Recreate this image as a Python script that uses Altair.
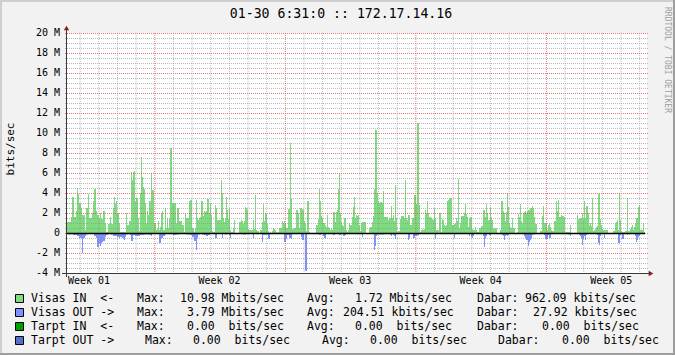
import altair as alt
import pandas as pd

# ---------------- data ----------------
title_text = "01-30 6:31:0 :: 172.17.14.16"
y_title = "bits/sec"
watermark = "RRDTOOL / TOBI OETIKER"

N_SLOTS = 580  # consolidated samples across the graph

# traffic IN (Mbit/s): each value holds from its start slot until the next start slot
in_start = [0, 4, 5, 7, 9, 10, 11, 12, 14, 15, 18, 19, 21, 22, 25, 26, 27, 29, 30, 32, 33, 34, 36, 38, 39, 41, 43, 44, 46, 47, 48, 49, 50, 52, 53, 59, 60, 62, 64, 65, 66, 67, 68, 69, 71, 72, 73, 74, 75, 76, 77, 78, 79, 80, 81, 82, 84, 85, 87, 89, 90, 91, 92, 93, 94, 95, 96, 98, 99, 100, 101, 102, 103, 105, 109, 110, 112, 115, 117, 118, 119, 122, 123, 125, 127, 128, 129, 130, 131, 132, 133, 134, 136, 137, 138, 139, 140, 142, 143, 144, 145, 146, 148, 149, 150, 154, 155, 156, 157, 158, 159, 160, 161, 162, 163, 164, 166, 167, 168, 172, 174, 175, 176, 177, 178, 179, 180, 181, 182, 186, 187, 188, 189, 190, 192, 193, 195, 196, 197, 198, 199, 200, 201, 202, 203, 204, 205, 206, 207, 208, 209, 210, 211, 212, 215, 216, 217, 218, 219, 221, 223, 224, 225, 227, 229, 231, 232, 233, 235, 236, 237, 238, 239, 240, 242, 243, 249, 251, 252, 253, 254, 255, 256, 258, 259, 260, 261, 262, 263, 264, 265, 266, 268, 269, 270, 271, 272, 273, 274, 275, 276, 277, 279, 280, 281, 282, 283, 285, 286, 287, 288, 289, 290, 291, 292, 293, 294, 295, 299, 302, 303, 305, 306, 307, 308, 310, 311, 312, 313, 315, 316, 317, 321, 322, 324, 325, 326, 327, 328, 329, 330, 331, 333, 334, 337, 338, 339, 340, 341, 343, 345, 347, 349, 350, 352, 353, 354, 355, 356, 357, 358, 359, 360, 361, 362, 364, 365, 366, 367, 368, 369, 372, 374, 375, 376, 377, 378, 379, 380, 381, 382, 383, 385, 387, 388, 389, 390, 391, 392, 393, 394, 397, 398, 399, 400, 401, 402, 403, 405, 406, 408, 409, 410, 412, 414, 416, 418, 419, 420, 421, 423, 424, 425, 426, 427, 428, 429, 430, 433, 434, 436, 437, 438, 439, 440, 441, 442, 443, 444, 445, 446, 448, 450, 451, 452, 453, 454, 455, 456, 457, 458, 459, 460, 461, 463, 465, 466, 467, 468, 470, 473, 475, 476, 477, 480, 481, 482, 483, 484, 485, 487, 489, 490, 491, 492, 494, 495, 497, 498, 503, 504, 510, 511, 513, 515, 516, 517, 518, 519, 521, 522, 523, 524, 525, 526, 527, 528, 529, 530, 531, 533, 534, 535, 536, 541, 546, 548, 549, 550, 551, 552, 553, 554, 555, 558, 560, 561, 563, 564, 565, 566, 567, 568, 569, 571, 572, 573, 576, 577, 578]
in_mbps = [1.1, 1.6, 3.6, 1.6, 2.2, 4.5, 3.9, 3.0, 2.5, 1.8, 0.3, 2.5, 3.9, 1.5, 2.0, 3.2, 4.4, 2.2, 1.8, 1.4, 2.0, 1.4, 2.2, 1.0, 0.1, 0.9, 1.6, 0.9, 2.5, 3.6, 2.9, 3.2, 2.0, 1.0, 0.1, 2.0, 0.8, 1.2, 6.1, 5.3, 6.1, 6.2, 3.2, 3.5, 1.5, 0.2, 4.0, 7.6, 5.6, 4.6, 4.4, 3.0, 1.0, 2.2, 1.8, 3.2, 6.0, 4.3, 1.0, 0.3, 0.4, 1.2, 0.3, 0.6, 2.0, 2.2, 0.3, 2.5, 0.5, 1.5, 0.5, 1.5, 8.5, 3.0, 1.0, 2.5, 1.2, 0.8, 0.1, 2.0, 1.5, 3.2, 3.3, 0.5, 0.1, 0.5, 3.3, 1.5, 1.3, 1.5, 1.6, 3.2, 1.7, 2.2, 2.1, 2.2, 3.4, 2.0, 3.0, 1.8, 0.2, 0.1, 2.8, 2.5, 1.3, 5.3, 4.0, 1.5, 1.1, 1.5, 3.6, 2.3, 1.4, 2.4, 0.3, 0.1, 0.5, 1.3, 0.0, 1.1, 1.3, 1.2, 0.9, 1.2, 2.6, 2.5, 2.3, 0.4, 0.3, 1.3, 0.4, 3.8, 0.3, 0.2, 0.0, 0.3, 1.1, 2.9, 1.2, 2.0, 1.9, 0.9, 0.2, 0.0, 0.1, 0.0, 0.2, 0.5, 0.4, 0.3, 0.1, 0.0, 0.1, 0.5, 1.2, 1.0, 1.2, 1.0, 0.5, 2.4, 9.0, 3.4, 0.4, 0.5, 2.3, 2.0, 0.5, 2.5, 2.4, 2.3, 1.2, 0.9, 0.2, 3.2, 0.1, 0.0, 0.8, 1.4, 4.4, 3.2, 1.7, 1.5, 1.0, 0.8, 0.6, 1.8, 0.6, 0.5, 0.3, 0.5, 0.3, 2.1, 1.1, 2.1, 2.3, 4.4, 5.9, 2.0, 1.1, 0.8, 0.7, 1.5, 0.3, 0.1, 0.3, 1.0, 0.8, 1.6, 2.6, 3.6, 1.5, 1.8, 1.7, 1.8, 0.8, 0.2, 1.0, 1.1, 0.0, 0.5, 0.6, 1.1, 1.7, 4.4, 10.3, 4.0, 3.2, 3.0, 3.1, 3.0, 4.2, 1.6, 1.3, 1.5, 2.7, 1.5, 1.8, 1.2, 4.8, 1.5, 0.1, 0.2, 1.4, 1.7, 1.5, 5.3, 1.5, 1.3, 1.8, 0.8, 1.5, 3.8, 2.9, 11.0, 2.8, 0.1, 0.3, 0.4, 0.3, 0.4, 2.3, 2.0, 3.2, 2.0, 1.6, 1.5, 1.4, 1.3, 2.5, 1.4, 0.3, 2.0, 0.1, 1.4, 1.3, 0.8, 0.7, 0.8, 3.2, 3.3, 3.4, 3.5, 0.8, 0.9, 1.0, 1.5, 1.2, 5.4, 0.5, 1.0, 1.7, 2.0, 2.9, 1.9, 1.6, 0.6, 1.4, 1.6, 0.4, 0.3, 0.6, 0.3, 0.1, 0.5, 0.7, 2.3, 1.6, 2.9, 2.0, 1.3, 2.6, 1.6, 1.3, 0.4, 0.5, 0.4, 0.5, 0.0, 0.3, 3.2, 2.2, 2.0, 1.2, 2.1, 4.0, 2.6, 1.0, 0.6, 0.5, 1.5, 0.5, 0.0, 0.1, 1.9, 1.6, 2.9, 1.2, 1.0, 2.0, 2.1, 2.2, 2.0, 2.2, 2.3, 2.5, 2.7, 2.5, 1.6, 0.9, 0.0, 0.2, 1.7, 2.7, 1.0, 0.3, 0.8, 1.0, 0.6, 0.3, 0.2, 1.2, 3.2, 2.2, 3.3, 1.6, 1.8, 1.7, 1.6, 0.1, 0.8, 0.0, 1.8, 1.4, 1.5, 2.0, 1.4, 3.2, 1.5, 2.7, 2.0, 0.8, 1.0, 0.7, 3.5, 0.2, 0.3, 0.4, 0.6, 0.7, 3.9, 1.4, 0.8, 0.4, 0.3, 0.0, 0.2, 1.0, 1.1, 1.3, 0.3, 4.0, 1.3, 0.2, 0.1, 0.2, 3.5, 0.2, 0.4, 0.6, 0.8, 0.3, 0.6, 1.0, 1.5, 2.6, 2.8, 0.3, 1.0, 0.1, 0.0]

# traffic OUT (Mbit/s, drawn downward)
out_start = [0, 2, 4, 6, 10, 12, 15, 16, 18, 19, 21, 27, 29, 30, 32, 33, 34, 35, 36, 38, 39, 41, 44, 46, 50, 52, 53, 55, 57, 58, 59, 61, 63, 64, 66, 68, 73, 77, 82, 84, 85, 87, 92, 94, 96, 98, 99, 103, 106, 109, 112, 115, 119, 123, 125, 127, 129, 130, 131, 133, 135, 137, 139, 141, 143, 148, 150, 153, 155, 156, 158, 160, 162, 163, 164, 176, 179, 181, 186, 187, 195, 196, 198, 201, 203, 212, 214, 217, 219, 220, 222, 224, 225, 229, 234, 235, 237, 238, 240, 241, 243, 251, 252, 254, 256, 257, 259, 260, 265, 266, 268, 270, 272, 274, 276, 278, 279, 280, 286, 290, 291, 292, 295, 296, 302, 305, 307, 308, 309, 310, 317, 323, 324, 325, 326, 327, 328, 329, 338, 339, 341, 342, 343, 345, 346, 348, 350, 352, 360, 368, 369, 381, 387, 388, 391, 392, 396, 399, 402, 403, 404, 405, 406, 407, 411, 415, 416, 417, 418, 419, 420, 422, 423, 424, 425, 433, 435, 436, 437, 438, 439, 440, 441, 442, 447, 450, 457, 458, 459, 461, 462, 463, 464, 465, 466, 468, 475, 477, 478, 481, 482, 484, 495, 498, 501, 503, 504, 510, 512, 513, 514, 515, 516, 517, 518, 519, 520, 528, 530, 531, 532, 533, 534, 536, 537, 538, 550, 551, 553, 554, 555, 557, 559, 560, 561, 568, 569, 570, 571, 572, 573, 576]
out_mbps = [-0.1, -0.15, -0.1, -0.2, -0.3, -0.5, -2.0, -0.5, -0.3, -0.15, -0.1, -0.3, -0.5, -1.4, -1.0, -1.3, -1.0, -0.9, -0.8, -0.4, -0.2, -0.1, -0.15, -0.3, -0.4, -0.5, -0.4, -0.5, -0.7, -0.4, -0.15, -0.1, -0.2, -0.8, -0.2, -0.3, -0.2, -0.15, -0.2, -0.3, -0.1, -0.05, -1.0, -0.5, -0.3, -0.15, -0.05, -0.1, -0.2, -0.15, -0.1, -0.05, -0.15, -0.2, -0.4, -0.8, -1.7, -0.5, -0.15, -0.1, -0.15, -0.2, -0.3, -0.2, -0.1, -0.5, -0.05, -0.1, -0.5, -0.1, -0.15, -0.05, -0.2, -0.5, -0.05, -0.15, -0.1, -0.05, -0.5, -0.05, -0.9, -0.2, -0.15, -0.6, -0.05, -0.1, -0.05, -0.9, -0.6, -0.2, -0.5, -0.6, -0.1, -0.1, -0.4, -0.7, -0.1, -3.8, -0.1, -0.05, 0.0, -0.1, -0.2, -0.1, -0.3, -0.5, -0.1, -0.05, -0.1, -0.2, -0.05, -0.1, -0.2, -0.05, -0.3, -0.2, -0.1, -0.05, -0.1, -0.15, -0.1, -0.05, -0.4, -0.05, 0.0, -0.1, -1.7, -1.3, -0.3, -0.15, -0.05, -0.2, -0.3, -0.1, -0.2, -0.3, -0.6, -0.05, -0.1, -0.05, -0.7, -0.5, -0.1, -0.05, -0.5, -0.3, -0.25, -0.05, -0.1, -0.5, -0.05, -0.1, -0.5, -0.05, -0.1, -0.05, -0.1, -0.05, -0.3, -0.1, -0.4, -0.5, -0.3, -0.05, 0.0, -0.05, -0.3, -1.4, -0.5, -0.3, -0.05, -0.2, -0.3, -0.1, 0.0, -0.1, -0.2, -0.3, -0.7, -0.3, -0.2, -0.3, -0.2, -0.05, 0.0, -0.05, -0.3, -0.5, -0.7, -1.3, -0.9, -0.7, -0.5, -0.2, -0.15, -0.05, -0.1, -0.2, -0.6, -0.2, -0.5, -0.05, -0.1, -0.05, -0.15, -0.3, -0.05, -0.1, -0.2, -0.3, -0.5, -1.2, -0.6, -0.3, -0.7, -0.2, -0.05, -0.1, -0.2, -1.0, -1.2, -0.3, -0.05, -0.1, -0.5, -0.05, -0.1, -1.0, -0.2, -0.1, -0.6, -0.05, -0.1, -0.2, -0.05, -0.3, -0.9, -0.7, -0.4, -0.3, -0.05, 0.0]

week_names = ["Week 01", "Week 02", "Week 03", "Week 04", "Week 05"]
first_week_slot = 87.3   # slot where Week 02 begins
slots_per_day = 18.65

y_ticks = [-4, -2, 0, 2, 4, 6, 8, 10, 12, 14, 16, 18, 20]
y_tick_labels = ["-4 M", "-2 M", "0  ", "2 M", "4 M", "6 M", "8 M", "10 M", "12 M",
                 "14 M", "16 M", "18 M", "20 M"]

legend_names = ["Visas IN  <-", "Visas OUT ->", "Tarpt IN  <-", "Tarpt OUT ->"]
legend_max = ["10.98 Mbits/sec", "3.79 Mbits/sec", "0.00  bits/sec", "0.00  bits/sec"]
legend_avg = ["1.72 Mbits/sec", "204.51 kbits/sec", "0.00  bits/sec", "0.00  bits/sec"]
legend_now = ["962.09 kbits/sec", "27.92 kbits/sec", "0.00  bits/sec", "0.00  bits/sec"]
legend_colors = ["#7FDB7F", "#8190FF", "#00A000", "#5272C6"]

# ---------------- layout (absolute canvas pixels) ----------------
W, H = 675, 355
OX, OY = 67, 33          # plot origin
PW, PH = 580, 240        # plot size
row_y = [299, 313, 327, 341]
name_x = [31, 31, 31, 31]
max_key_x = [137, 137, 137, 145]
max_val_x = [180, 187, 187, 193]
avg_key_x = [307, 307, 307, 322]
avg_val_x = [355, 343, 355, 370]
now_key_x = [477, 477, 477, 498]
now_val_x = [525, 533, 542, 562]

MONO = "DejaVu Sans Mono"
NB = "\u00a0"

def nb(s):
    return s.replace(" ", NB)

xs = alt.Scale(domain=[0, N_SLOTS], nice=False, zero=False)
ys = alt.Scale(domain=[-4, 20], nice=False, zero=False)


def steps(starts, vals):
    ends = starts[1:] + [N_SLOTS]
    return pd.DataFrame({"start": starts, "end": ends, "mbps": vals})


def bars(df, color):
    return alt.Chart(df).mark_rect(color=color).encode(
        x=alt.X("start:Q", scale=xs, axis=None),
        x2="end:Q",
        y=alt.Y("mbps:Q", scale=ys, axis=None),
        y2=alt.datum(0),
    )

in_layer = bars(steps(in_start, in_mbps), legend_colors[0])
out_layer = bars(steps(out_start, out_mbps), legend_colors[1])

# grid
minor_h = [v / 2 for v in range(-8, 41) if v % 4 != 0]
major_h = y_ticks
day_lines = []
k = -4
while True:
    p = first_week_slot + k * slots_per_day
    if p > N_SLOTS:
        break
    if p > 0:
        day_lines.append((p, k % 7 == 0))
    k += 1
minor_v = [p for p, m in day_lines if not m]
major_v = [p for p, m in day_lines if m]


def hgrid(vals, color, op):
    return alt.Chart(pd.DataFrame({"v": vals})).mark_rule(
        color=color, opacity=op, strokeDash=[1, 1], strokeWidth=1, yOffset=0.5
    ).encode(y=alt.Y("v:Q", scale=ys, axis=None), x=alt.value(-2), x2=alt.value(PW + 2))


def vgrid(vals, color, op):
    return alt.Chart(pd.DataFrame({"v": vals})).mark_rule(
        color=color, opacity=op, strokeDash=[1, 1], strokeWidth=1, xOffset=0.5
    ).encode(x=alt.X("v:Q", scale=xs, axis=None), y=alt.value(0), y2=alt.value(PH + 2))

grid = [
    hgrid(minor_h, "#8F8F8F", 0.6),
    vgrid(minor_v, "#8F8F8F", 0.6),
    hgrid(major_h, "#DE4F4F", 0.75),
    vgrid(major_v, "#DE4F4F", 0.75),
]

zero_line = alt.Chart(pd.DataFrame({"v": [0]})).mark_rule(
    color="black", strokeWidth=1.5, yOffset=0.5
).encode(y=alt.Y("v:Q", scale=ys, axis=None), x=alt.value(0), x2=alt.value(PW - 2))

one = pd.DataFrame({"a": [0]})
axis_col = "#3A3A3A"
arrow_col = "#801F1F"
y_axis = alt.Chart(one).mark_rule(color=axis_col, strokeWidth=1, xOffset=-0.5).encode(
    x=alt.value(0), y=alt.value(-5), y2=alt.value(PH + 4))
x_axis = alt.Chart(one).mark_rule(color=axis_col, strokeWidth=1, yOffset=0.5).encode(
    y=alt.value(PH), x=alt.value(-5), x2=alt.value(PW + 3))
up_arrow = alt.Chart(one).mark_point(shape="triangle-up", filled=True, color=arrow_col,
                                     size=28, opacity=1).encode(
    x=alt.value(-0.5), y=alt.value(-5))
right_arrow = alt.Chart(one).mark_point(shape="triangle-right", filled=True, color=arrow_col,
                                        size=28, opacity=1).encode(
    x=alt.value(PW + 4), y=alt.value(PH + 0.5))

# tick labels
ylab = alt.Chart(pd.DataFrame({"v": y_ticks, "t": [nb(s) for s in y_tick_labels]})).mark_text(
    font=MONO, fontSize=10, align="right", baseline="middle", color="black"
).encode(y=alt.Y("v:Q", scale=ys, axis=None), x=alt.value(60 - OX), text="t:N")

# each week label sits in the middle of its week
week_pos = [first_week_slot + (i - 1) * 7 * slots_per_day + 3.5 * slots_per_day
            for i in range(len(week_names))]
xlab = alt.Chart(pd.DataFrame({"v": week_pos, "t": [nb(s) for s in week_names]})).mark_text(
    font=MONO, fontSize=10, align="center", baseline="middle", color="black"
).encode(x=alt.X("v:Q", scale=xs, axis=None), y=alt.value(281 - OY), text="t:N")


def label(txt, x, y, size, angle=0, color="black", align="center"):
    return alt.Chart(pd.DataFrame({"t": [nb(txt)]})).mark_text(
        font=MONO, fontSize=size, angle=angle, align=align, baseline="middle", color=color
    ).encode(x=alt.value(x - OX), y=alt.value(y - OY), text="t:N")

texts = [
    label(title_text, 341, 14, 13.2),
    label(y_title, 11, 149, 11, angle=270),
    label(watermark, 667, 60, 8, angle=90, color="#9E9E9E"),
]

# legend
leg_rows = []
for i in range(4):
    segs = [(legend_names[i], name_x[i]), ("Max:", max_key_x[i]), (legend_max[i], max_val_x[i]),
            ("Avg:", avg_key_x[i]), (legend_avg[i], avg_val_x[i]),
            ("Dabar:", now_key_x[i]), (legend_now[i], now_val_x[i])]
    for s, x in segs:
        leg_rows.append({"t": nb(s), "px": x - OX, "py": row_y[i] - OY})
legend_text = alt.Chart(pd.DataFrame(leg_rows)).mark_text(
    font=MONO, fontSize=11.5, align="left", baseline="middle", color="black"
).encode(x=alt.X("px:Q", scale=None, axis=None), y=alt.Y("py:Q", scale=None, axis=None), text="t:N")

swatches = []
for i in range(4):
    swatches.append(alt.Chart(one).mark_rect(fill=legend_colors[i], stroke="black", strokeWidth=1).encode(
        x=alt.value(15.5 - OX), x2=alt.value(23.5 - OX),
        y=alt.value(row_y[i] - 4.5 - OY), y2=alt.value(row_y[i] + 3.5 - OY)))

# 3d border
bev = [
    alt.Chart(one).mark_rule(color="#CFCFCF", strokeWidth=2).encode(
        x=alt.value(-OX), x2=alt.value(W - OX), y=alt.value(1 - OY)),
    alt.Chart(one).mark_rule(color="#CFCFCF", strokeWidth=2).encode(
        y=alt.value(-OY), y2=alt.value(H - OY), x=alt.value(1 - OX)),
    alt.Chart(one).mark_rule(color="#9E9E9E", strokeWidth=2).encode(
        x=alt.value(-OX), x2=alt.value(W - OX), y=alt.value(H - 1 - OY)),
    alt.Chart(one).mark_rule(color="#9E9E9E", strokeWidth=2).encode(
        y=alt.value(-OY), y2=alt.value(H - OY), x=alt.value(W - 1 - OX)),
]

chart = alt.layer(
    in_layer, out_layer, *grid, zero_line, y_axis, x_axis, up_arrow, right_arrow,
    ylab, xlab, *texts, legend_text, *swatches, *bev
).properties(
    width=PW, height=PH,
    autosize=alt.AutoSizeParams(type="none"),
    padding={"left": OX, "top": OY, "right": W - OX - PW, "bottom": H - OY - PH},
    background="#F2F2F2",
).configure_view(fill="white", stroke=None)

chart.save("out.html", embed_options={"renderer": "svg", "actions": False})
